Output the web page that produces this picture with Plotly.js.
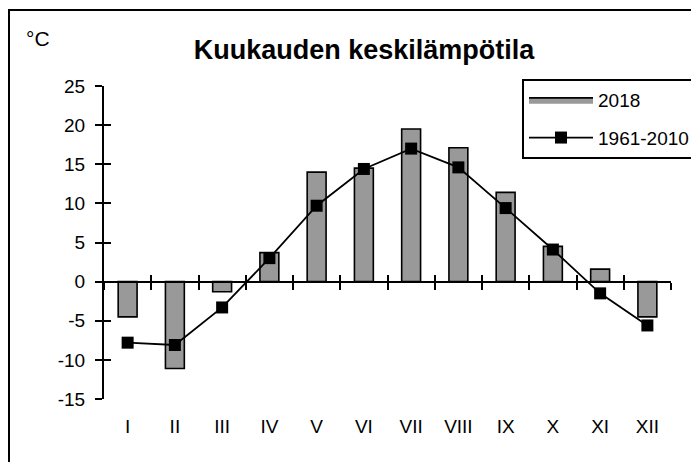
<!DOCTYPE html>
<html>
<head>
<meta charset="utf-8">
<script src="https://cdn.plot.ly/plotly-3.0.1.min.js"></script>
<style>
  html, body { margin: 0; padding: 0; overflow: hidden; background: #fff; }
  #chart { width: 691px; height: 462px; position: absolute; left: 0; top: 0; }
  #frame { position: absolute; left: 8px; top: 9px; width: 700px; height: 470px;
           border: 2px solid #000; box-sizing: border-box; pointer-events: none; }
</style>
</head>
<body>
<div id="chart"></div>
<div id="frame"></div>
<script>
// Data
const months = ["I", "II", "III", "IV", "V", "VI", "VII", "VIII", "IX", "X", "XI", "XII"];
const temp2018 = [-4.5, -11.1, -1.3, 3.7, 14.0, 14.5, 19.5, 17.1, 11.4, 4.5, 1.6, -4.5];
const temp1961_2010 = [-7.8, -8.1, -3.3, 3.0, 9.7, 14.4, 17.0, 14.6, 9.4, 4.1, -1.5, -5.6];
const yRange = [-15, 25];
const yTicks = [-15, -10, -5, 0, 5, 10, 15, 20, 25];
const yTickText = yTicks.map(v => String(v));

const FONT = '"Liberation Sans", Arial, Helvetica, sans-serif';
const xRange = [-0.5, months.length - 0.5];
const boundaries = months.map((_, i) => i - 0.5).concat([months.length - 0.5]);
const zeroPos = (0 - yRange[0]) / (yRange[1] - yRange[0]);
const idx = months.map((_, i) => i);
const empty = months.map(() => null);

const traces = [
  {
    type: 'bar', x: months, y: temp2018, name: '2018', showlegend: false,
    marker: { color: '#999999', line: { color: '#000000', width: 1.6 } },
    hoverinfo: 'x+y'
  },
  {
    type: 'scatter', mode: 'lines', x: [null], y: [null], name: '2018',
    fill: 'toself', fillcolor: '#999999', line: { color: '#000000', width: 1.6 },
    legendgroup: 'a', hoverinfo: 'skip'
  },
  {
    type: 'scatter', mode: 'lines+markers', x: months, y: temp1961_2010, name: '1961-2010',
    line: { color: '#000000', width: 1.8 },
    marker: { symbol: 'square', size: 12, color: '#000000' },
    legendgroup: 'b'
  },
  { type: 'scatter', mode: 'none', x: idx, y: empty, xaxis: 'x2', yaxis: 'y', showlegend: false, hoverinfo: 'skip' },
  { type: 'scatter', mode: 'none', x: idx, y: empty, xaxis: 'x3', yaxis: 'y', showlegend: false, hoverinfo: 'skip' },
  { type: 'scatter', mode: 'none', x: months, y: empty, xaxis: 'x', yaxis: 'y2', showlegend: false, hoverinfo: 'skip' }
];

const layout = {
  width: 691, height: 462,
  margin: { l: 104, r: 20, t: 86, b: 63, autoexpand: false },
  paper_bgcolor: '#ffffff', plot_bgcolor: 'rgba(0,0,0,0)',
  font: { family: FONT, size: 19, color: '#000000' },
  showlegend: true,
  bargap: 0.6,
  title: {
    text: 'Kuukauden keskilämpötila',
    font: { family: FONT, size: 27, weight: 700, color: '#000' },
    x: 364 / 691, xanchor: 'center', xref: 'container',
    y: 1 - 50 / 462, yanchor: 'middle', yref: 'container'
  },
  xaxis: {
    type: 'category', categoryorder: 'array', categoryarray: months,
    range: xRange, showline: false, showgrid: false, zeroline: false,
    ticks: '', ticklabelstandoff: 14,
    tickfont: { family: FONT, size: 19 }
  },
  xaxis2: {
    overlaying: 'x', anchor: 'free', position: zeroPos, range: xRange,
    showline: true, linecolor: '#000', linewidth: 2,
    showgrid: false, zeroline: false, showticklabels: false,
    tickmode: 'array', tickvals: boundaries,
    ticks: 'outside', ticklen: 7, tickwidth: 2, tickcolor: '#000'
  },
  xaxis3: {
    overlaying: 'x', anchor: 'free', position: zeroPos, range: xRange,
    showline: false, showgrid: false, zeroline: false, showticklabels: false,
    tickmode: 'array', tickvals: boundaries,
    ticks: 'inside', ticklen: 7, tickwidth: 2, tickcolor: '#000'
  },
  yaxis: {
    range: yRange, tickmode: 'array', tickvals: yTicks, ticktext: yTickText,
    showline: true, linecolor: '#000', linewidth: 2,
    showgrid: false, zeroline: false,
    ticks: 'outside', ticklen: 7, tickwidth: 2, tickcolor: '#000',
    ticklabelstandoff: 6,
    tickfont: { family: FONT, size: 19 }
  },
  yaxis2: {
    overlaying: 'y', anchor: 'x', side: 'left', range: yRange,
    tickmode: 'array', tickvals: yTicks,
    showline: false, showgrid: false, zeroline: false, showticklabels: false,
    ticks: 'inside', ticklen: 7, tickwidth: 2, tickcolor: '#000'
  },
  legend: {
    x: (522 - 104) / 567, y: (399 - 79) / 313, xanchor: 'left', yanchor: 'top',
    bordercolor: '#000', borderwidth: 2, bgcolor: '#ffffff',
    font: { family: FONT, size: 19 },
    traceorder: 'grouped', tracegroupgap: 10, itemwidth: 64
  },
  annotations: [
    {
      text: '°C', xref: 'paper', yref: 'paper',
      x: (24 - 104) / 567, y: (399 - 38) / 313,
      xanchor: 'left', yanchor: 'middle', showarrow: false,
      font: { family: FONT, size: 21 }
    }
  ]
};

Plotly.newPlot('chart', traces, layout, { displayModeBar: false, staticPlot: true });
</script>
</body>
</html>
